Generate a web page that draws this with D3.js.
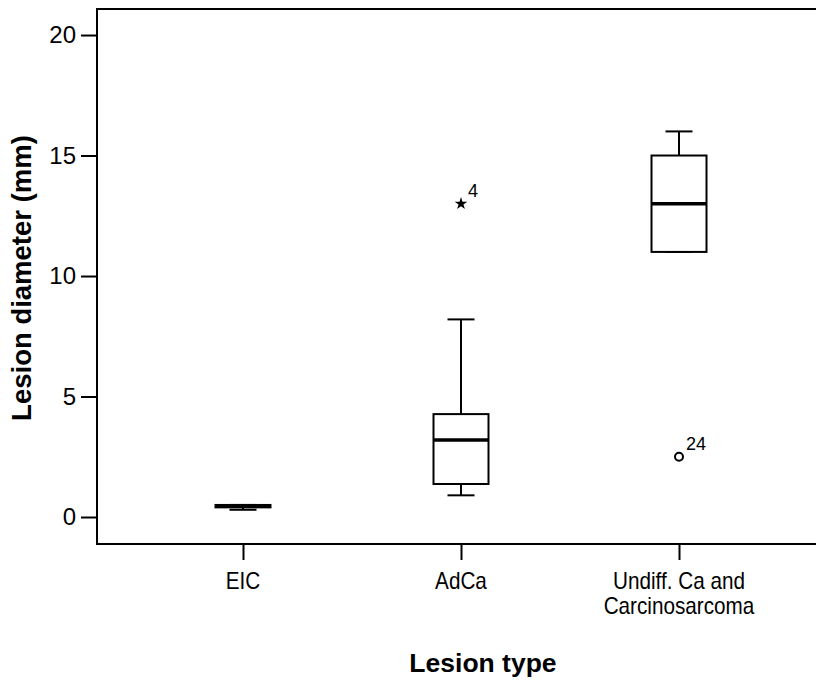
<!DOCTYPE html>
<html><head><meta charset="utf-8">
<script src="https://cdn.jsdelivr.net/npm/d3@7"></script>
<style>body{margin:0;background:#fff}svg{display:block;font-family:"Liberation Sans",Arial,sans-serif}</style>
</head><body>
<svg id="c" width="816" height="683"></svg>
<script>
const categories = ["EIC", "AdCa", "Undiff. Ca and\nCarcinosarcoma"];
const whiskerLow = [0.3, 0.9, 11.0];
const q1 = [0.4, 1.37, 11.0];
const median = [0.45, 3.2, 13.0];
const q3 = [0.5, 4.27, 15.0];
const whiskerHigh = [0.5, 8.2, 16.0];
const outlierCat = ["AdCa", "Undiff. Ca and\nCarcinosarcoma"];
const outlierVal = [13.0, 2.5];
const outlierType = ["extreme", "outlier"];
const outlierLabel = ["4", "24"];
const yTicks = [0, 5, 10, 15, 20];

(function () {
const svg = d3.select("#c");
const mLeft = 97, mTop = 9, mBottom = 544, mRight = 825;
const y = d3.scaleLinear().domain([-1.12, 21.08]).range([mBottom, mTop]);
const x = d3.scalePoint().domain(categories).range([243, 679]);
const boxW = 55, capW = 27;

svg.append("rect").attr("x", mLeft).attr("y", mTop).attr("width", mRight - mLeft).attr("height", mBottom - mTop)
  .attr("fill", "none").attr("stroke", "#000").attr("stroke-width", 2);

const yAxis = svg.append("g").attr("transform", `translate(${mLeft},0)`)
  .call(d3.axisLeft(y).tickValues(yTicks).tickSize(16).tickPadding(5));
yAxis.select(".domain").remove();
yAxis.selectAll("line").attr("stroke-width", 2);
yAxis.selectAll("text").attr("font-size", 24).attr("fill", "#000").attr("font-family", "Liberation Sans, Arial, sans-serif");

const xAxis = svg.append("g").attr("transform", `translate(0,${mBottom})`)
  .call(d3.axisBottom(x).tickSize(16).tickFormat(""));
xAxis.select(".domain").remove();
xAxis.selectAll("line").attr("stroke-width", 2);
categories.forEach(c => {
  const lines = c.split("\n");
  const g = svg.append("g").attr("transform", `translate(${x(c)},0) scale(0.9,1)`);
  lines.forEach((l, i) => g.append("text").attr("x", 0).attr("y", 589 + i * 25).attr("text-anchor", "middle")
    .attr("font-size", 23).attr("fill", "#000").text(l));
});

categories.forEach((c, i) => {
  const cx = x(c);
  const g = svg.append("g").attr("stroke", "#000").attr("fill", "none");
  g.append("line").attr("x1", cx).attr("x2", cx).attr("y1", y(whiskerLow[i])).attr("y2", y(q1[i])).attr("stroke-width", 2);
  g.append("line").attr("x1", cx).attr("x2", cx).attr("y1", y(q3[i])).attr("y2", y(whiskerHigh[i])).attr("stroke-width", 2);
  g.append("line").attr("x1", cx - capW / 2).attr("x2", cx + capW / 2).attr("y1", y(whiskerLow[i])).attr("y2", y(whiskerLow[i])).attr("stroke-width", 2);
  g.append("line").attr("x1", cx - capW / 2).attr("x2", cx + capW / 2).attr("y1", y(whiskerHigh[i])).attr("y2", y(whiskerHigh[i])).attr("stroke-width", 2);
  g.append("rect").attr("x", cx - boxW / 2).attr("y", y(q3[i])).attr("width", boxW)
    .attr("height", Math.max(0.5, y(q1[i]) - y(q3[i]))).attr("fill", "#fff").attr("stroke-width", 2);
  g.append("line").attr("x1", cx - boxW / 2).attr("x2", cx + boxW / 2).attr("y1", y(median[i])).attr("y2", y(median[i])).attr("stroke-width", 3.5);
});

outlierCat.forEach((c, i) => {
  const cx = x(c), cy = y(outlierVal[i]);
  if (outlierType[i] === "extreme") {
    svg.append("path").attr("d", d3.symbol(d3.symbolStar, 50)()).attr("transform", `translate(${cx},${cy})`).attr("fill", "#000");
  } else {
    svg.append("circle").attr("cx", cx).attr("cy", cy).attr("r", 4).attr("fill", "none").attr("stroke", "#000").attr("stroke-width", 2);
  }
  svg.append("text").attr("x", cx + 7).attr("y", cy - 7).attr("font-size", 18).attr("fill", "#000").text(outlierLabel[i]);
});

svg.append("text").attr("transform", `translate(31,278) rotate(-90)`).attr("text-anchor", "middle")
  .attr("font-size", 27.5).attr("font-weight", "bold").text("Lesion diameter (mm)");
svg.append("text").attr("x", 483).attr("y", 672).attr("text-anchor", "middle")
  .attr("font-size", 26.5).attr("font-weight", "bold").text("Lesion type");
})();
</script>
</body></html>
